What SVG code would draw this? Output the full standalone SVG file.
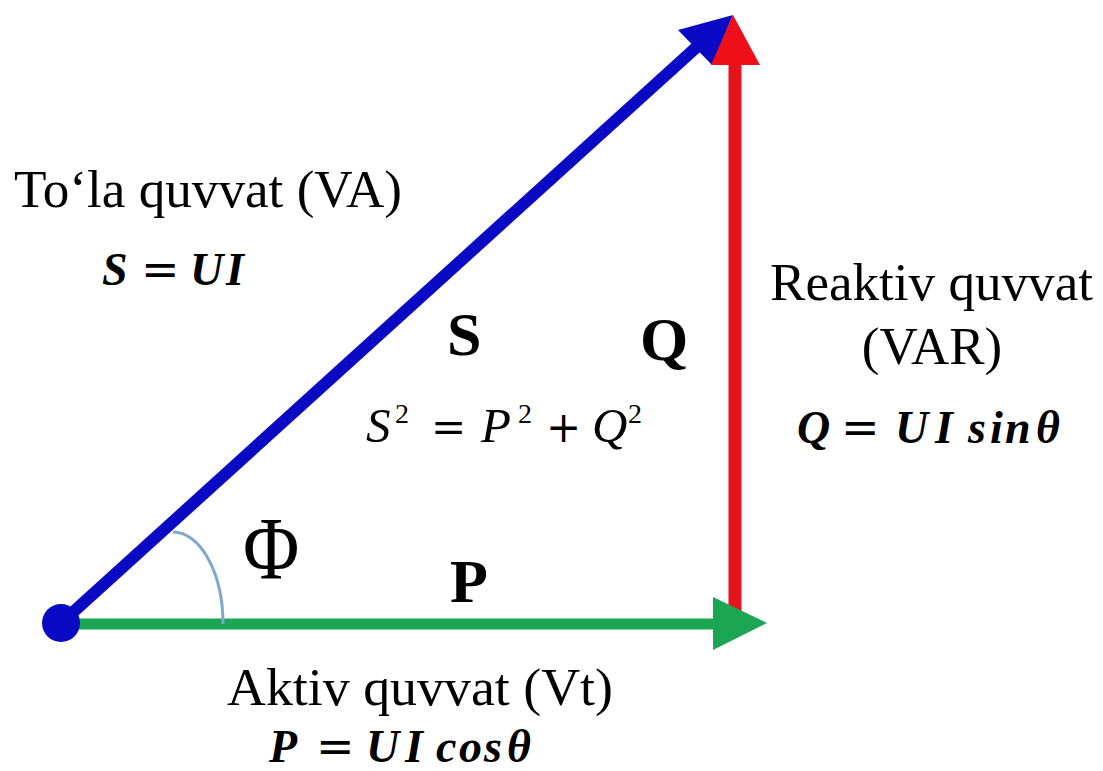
<svg xmlns="http://www.w3.org/2000/svg" width="1103" height="771" viewBox="0 0 1103 771">
<style>
.lbl{font-family:"Liberation Serif","Times New Roman",serif;font-size:53px;fill:#000}
.big{font-family:"Liberation Serif","Times New Roman",serif;font-size:62px;font-weight:bold;fill:#000}
.mb{font-family:"Liberation Serif","Times New Roman",serif;font-size:46px;font-weight:bold;font-style:italic;fill:#000}
.mi{font-family:"Liberation Serif","Times New Roman",serif;font-size:49px;font-style:italic;fill:#000}
.op{font-family:"DejaVu Serif",serif;font-weight:normal;font-style:normal}
.sup{font-family:"Liberation Serif",serif;font-style:normal;font-size:28px}
</style>
<rect width="1103" height="771" fill="#fff"/>
<g id="connectors">
  <line id="P-vector" x1="60" y1="624" x2="718" y2="624" stroke="#1ca552" stroke-width="11"/>
  <line id="Q-vector" x1="735" y1="630" x2="735" y2="60" stroke="#e5141c" stroke-width="13"/>
  <polygon points="713,597 767,623 713,650" fill="#1ca552"/>
  <line id="S-vector" x1="60" y1="624" x2="700" y2="44" stroke="#0a0ac4" stroke-width="12"/>
  <polygon points="733,15 678,30 712,65" fill="#0a0ac4"/>
  <polygon points="733,15 711,65 760,65" fill="#ee1018"/>
  <path id="angle-arc" d="M173,532 A50,92 0 0 1 223,624" fill="none" stroke="#7fa9cb" stroke-width="3"/>
</g>
<g id="origin"><circle cx="61" cy="623" r="19" fill="#0a0ac4"/></g>
<g id="S-label">
  <text class="lbl" x="14" y="207" textLength="388" lengthAdjust="spacingAndGlyphs">To‘la quvvat (VA)</text>
  <text class="mb" y="285"><tspan x="102">S</tspan><tspan class="op" x="141">=</tspan><tspan x="190">U</tspan><tspan x="226">I</tspan></text>
  <text class="big" x="447" y="355">S</text>
</g>
<g id="Q-label">
  <text class="big" x="640" y="360">Q</text>
  <text class="lbl" x="770" y="300" textLength="323" lengthAdjust="spacingAndGlyphs">Reaktiv quvvat</text>
  <text class="lbl" x="932" y="364" text-anchor="middle">(VAR)</text>
  <text class="mb" y="443"><tspan x="797">Q</tspan><tspan class="op" x="841">=</tspan><tspan x="895">U</tspan><tspan x="935">I</tspan><tspan x="968">s</tspan><tspan x="990">i</tspan><tspan x="1005">n</tspan><tspan x="1036">θ</tspan></text>
</g>
<g id="formula">
  <text class="mi" y="442"><tspan x="366">S</tspan><tspan class="sup" x="395" y="423">2</tspan><tspan class="op" x="431" y="442" style="font-size:42px">=</tspan><tspan x="481" y="442">P</tspan><tspan class="sup" x="518" y="423">2</tspan><tspan class="op" x="546" y="442" style="font-size:42px">+</tspan><tspan x="592" y="442">Q</tspan><tspan class="sup" x="628" y="423">2</tspan></text>
</g>
<g id="angle-label">
  <text class="lbl" x="0" y="0" transform="translate(243,578) scale(1,1.16)" style="font-size:77px">Φ</text>
</g>
<g id="P-label">
  <text class="big" x="450" y="602">P</text>
  <text class="lbl" x="227" y="705" textLength="386" lengthAdjust="spacingAndGlyphs">Aktiv quvvat (Vt)</text>
  <text class="mb" y="762"><tspan x="269">P</tspan><tspan class="op" x="316">=</tspan><tspan x="366">U</tspan><tspan x="405">I</tspan><tspan x="436">c</tspan><tspan x="459">o</tspan><tspan x="484">s</tspan><tspan x="507">θ</tspan></text>
</g>
</svg>
